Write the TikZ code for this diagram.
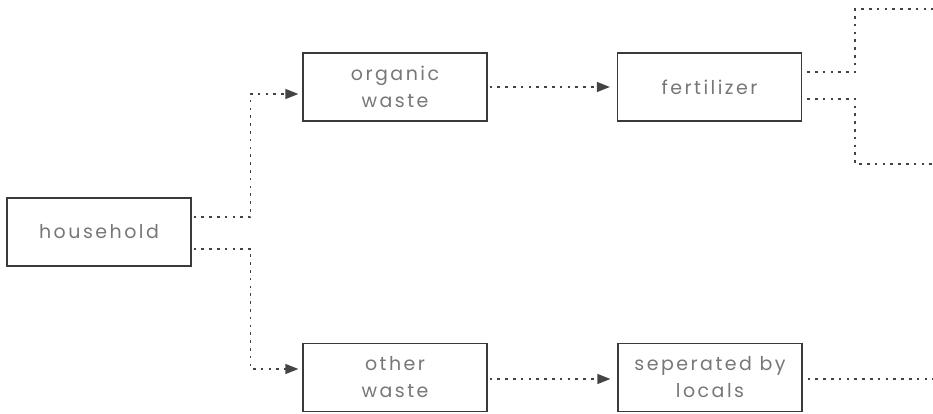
\documentclass[tikz,border=0pt]{standalone}
\usepackage{fontspec}
\setmainfont{Poppins}[LetterSpace=13]
\usetikzlibrary{arrows.meta}
\definecolor{boxline}{HTML}{3A3A3A}
\definecolor{txt}{HTML}{777777}
\definecolor{flowline}{HTML}{444444}
\tikzset{
  x=1pt, y=1pt,
  stepbox/.style={draw=boxline, line width=1.2pt, minimum width=184pt, minimum height=68pt,
    inner sep=0pt, align=center, text=txt, font=\fontsize{19}{27}\selectfont},
  flow/.style={draw=flowline, line width=1.3pt, dash pattern=on 2.6pt off 5.2pt},
  flowarrow/.style={flow, -{Triangle[length=13pt,width=10pt]}},
}
\begin{document}
\begin{tikzpicture}
\useasboundingbox (0,0) rectangle (933,-414);
\node[stepbox] (household) at (99,-232) {household};
\node[stepbox] (organic) at (395,-87) {organic\\waste};
\node[stepbox] (fertilizer) at (709.5,-87) {fertilizer};
\node[stepbox] (other) at (395,-377.5) {other\\waste};
\node[stepbox] (seperated) at (710,-377.5) {seperated by\\locals};
\coordinate (e1) at (933,-9);
\coordinate (e2) at (933,-164);
\coordinate (e3) at (933,-379);
\draw[flowarrow] ([shift={(2,15)}]household.east) -- ++(57,0) |- ([shift={(-4,-7)}]organic.west);
\draw[flowarrow] ([shift={(2,-17)}]household.east) -- ++(57,0) |- ([shift={(-4,8.5)}]other.west);
\draw[flowarrow] ([xshift=2pt]organic.east) -- ([xshift=-7pt]fertilizer.west);
\draw[flowarrow] ([xshift=2pt,yshift=-1.5pt]other.east) -- ([xshift=-7pt,yshift=-1.5pt]seperated.west);
\draw[flow] ([shift={(5,15)}]fertilizer.east) -- ++(48,0) |- (e1);
\draw[flow] ([shift={(5,-12)}]fertilizer.east) -- ++(48,0) |- (e2);
\draw[flow] ([xshift=5pt,yshift=-1.5pt]seperated.east) -- (e3);
\end{tikzpicture}
\end{document}
